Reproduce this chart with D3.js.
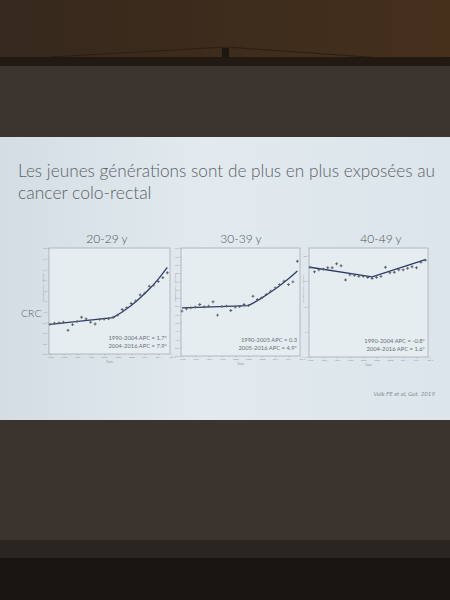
<!DOCTYPE html>
<html>
<head>
<meta charset="utf-8">
<script src="https://cdn.jsdelivr.net/npm/d3@7"></script>
<style>
  html, body { margin: 0; padding: 0; background: #1c1614; }
  svg { display: block; }
</style>
</head>
<body>
<svg id="chart" width="450" height="600"></svg>
<script>
// ---------- DATA ----------
const years = [1990,1991,1992,1993,1994,1995,1996,1997,1998,1999,2000,2001,2002,2003,2004,2005,2006,2007,2008,2009,2010,2011,2012,2013,2014,2015,2016];
const panelTitles = ["20-29 y", "30-39 y", "40-49 y"];
const rateAge2029 = [0.84,0.87,0.88,0.90,0.67,0.83,0.92,1.04,0.99,0.90,0.85,0.98,0.99,1.00,1.04,1.10,1.26,1.31,1.43,1.50,1.67,1.72,1.92,1.95,2.05,2.16,2.30];
const rateAge3039 = [2.70,2.84,2.90,2.94,3.10,2.96,3.00,3.26,2.46,2.98,3.00,2.74,2.94,2.98,3.10,3.05,3.60,3.40,3.50,3.70,3.90,4.10,4.30,4.50,4.30,4.46,5.70];
const rateAge4049 = [17.7,16.8,17.2,17.3,17.6,17.6,18.4,18.0,15.2,16.2,16.1,15.9,15.9,15.7,15.5,15.7,15.9,17.7,16.6,16.7,17.2,17.2,17.5,17.8,17.6,18.7,19.1];
// joinpoint fitted trend (year, value)
const fitYears2029 = [1990,2004,2005,2006,2007,2008,2009,2010,2011,2012,2013,2014,2015,2016];
const fitAge2029 = [0.84,1.03,1.11,1.19,1.28,1.37,1.48,1.59,1.71,1.84,1.97,2.12,2.28,2.45];
const fitYears3039 = [1990,2005,2006,2007,2008,2009,2010,2011,2012,2013,2014,2015,2016];
const fitAge3039 = [2.90,3.03,3.18,3.33,3.50,3.67,3.85,4.03,4.23,4.44,4.65,4.88,5.12];
const fitYears4049 = [1990,2004,2016];
const fitAge4049 = [17.7,15.8,19.2];
const apcLabels2029 = ["1990-2004 APC = 1.7*", "2004-2016 APC = 7.9*"];
const apcLabels3039 = ["1990-2005 APC = 0.3", "2005-2016 APC = 4.9*"];
const apcLabels4049 = ["1990-2004 APC = -0.8*", "2004-2016 APC = 1.6*"];
const yTicks2029 = [0,0.3,0.6,0.9,1.2,1.5,1.8,2.1,2.4,2.7,3.0];
const yTicks3039 = [0,0.5,1,1.5,2,2.5,3,3.5,4,4.5,5,5.5,6,6.5];
const yTicks4049 = [0,5,10,15,20];
const xTicks = [1990,1993,1996,1999,2002,2005,2008,2011,2014,2017];
const yMax = [3.0, 6.5, 21.5];
const titleText = ["Les jeunes générations sont de plus en plus exposées au", "cancer colo-rectal"];
const sideLabel = "CRC";
const citation = "Vuik FE et al, Gut. 2019";

// ---------- LAYOUT ----------
const svg = d3.select("#chart");
const defs = svg.append("defs");

// room / screen background
const bgTop = defs.append("linearGradient").attr("id","bgTop").attr("x1",0).attr("x2",1).attr("y1",0).attr("y2",0);
bgTop.append("stop").attr("offset","0%").attr("stop-color","#36281d");
bgTop.append("stop").attr("offset","100%").attr("stop-color","#45301c");
svg.append("rect").attr("x",0).attr("y",0).attr("width",450).attr("height",58).attr("fill","url(#bgTop)");
svg.append("rect").attr("x",0).attr("y",57).attr("width",450).attr("height",9).attr("fill","#231913");
svg.append("rect").attr("x",0).attr("y",66).attr("width",450).attr("height",72).attr("fill","#3c352f");
svg.append("line").attr("x1",50).attr("y1",57).attr("x2",226).attr("y2",47).attr("stroke","#241a12").attr("stroke-width",0.8);
svg.append("line").attr("x1",226).attr("y1",47).attr("x2",396).attr("y2",59).attr("stroke","#241a12").attr("stroke-width",0.8);
svg.append("rect").attr("x",222).attr("y",48).attr("width",7).attr("height",10).attr("fill","#1e1610");

svg.append("rect").attr("x",0).attr("y",420).attr("width",450).attr("height",122).attr("fill","#3b342e");
svg.append("rect").attr("x",0).attr("y",540).attr("width",450).attr("height",18).attr("fill","#2a2521");
svg.append("rect").attr("x",0).attr("y",558).attr("width",450).attr("height",42).attr("fill","#1a1412");

// slide
const slideG = defs.append("linearGradient").attr("id","slideG").attr("x1",0).attr("x2",1).attr("y1",0).attr("y2",0);
slideG.append("stop").attr("offset","0%").attr("stop-color","#d3dde3");
slideG.append("stop").attr("offset","45%").attr("stop-color","#e2eaef");
slideG.append("stop").attr("offset","100%").attr("stop-color","#dce5eb");
svg.append("rect").attr("x",0).attr("y",137).attr("width",450).attr("height",283).attr("fill","url(#slideG)");

// title
const titleColor = "#5d6266";
titleText.forEach((t, i) => {
  const el = svg.append("text")
    .attr("x", 18).attr("y", 177 + i * 22)
    .attr("font-family", "Lato, 'Open Sans', sans-serif")
    .attr("font-size", 17.5)
    .attr("font-weight", 300)
    .attr("fill", titleColor)
    .text(t);
  if (i === 0) el.attr("textLength", 417).attr("lengthAdjust", "spacingAndGlyphs");
});

svg.append("text").attr("x", 21).attr("y", 317)
  .attr("font-family", "Lato, 'Open Sans', sans-serif").attr("font-size", 10.5)
  .attr("font-weight", 300)
  .attr("fill", "#62676b").text(sideLabel);

svg.append("text").attr("x", 435).attr("y", 396).attr("text-anchor","end")
  .attr("font-family", "Lato, 'Open Sans', sans-serif").attr("font-size", 6.2)
  .attr("font-style","italic").attr("fill", "#8a9096").text(citation);

// panels
const panels = [
  { left: 49, right: 170, top: 248, bottom: 354, titleX: 107, rates: rateAge2029, fitX: fitYears2029, fitY: fitAge2029, apc: apcLabels2029, yt: yTicks2029, fmt: d3.format(".1f"), ymax: yMax[0] },
  { left: 181, right: 300, top: 248, bottom: 356, titleX: 241, rates: rateAge3039, fitX: fitYears3039, fitY: fitAge3039, apc: apcLabels3039, yt: yTicks3039, fmt: d3.format(".1f"), ymax: yMax[1] },
  { left: 309, right: 428, top: 248, bottom: 357, titleX: 381, rates: rateAge4049, fitX: fitYears4049, fitY: fitAge4049, apc: apcLabels4049, yt: yTicks4049, fmt: d3.format("d"), ymax: yMax[2] }
];

panels.forEach((p, i) => {
  const g = svg.append("g");
  const x = d3.scaleLinear().domain([1990, 2016.6]).range([p.left + 1, p.right]);
  const y = d3.scaleLinear().domain([0, p.ymax]).range([p.bottom, p.top]);

  g.append("text").attr("x", p.titleX).attr("y", 243).attr("text-anchor","middle")
    .attr("font-family", "Lato, 'Open Sans', sans-serif").attr("font-size", 12)
    .attr("font-weight", 300)
    .attr("fill", "#4c5156").text(panelTitles[i]);

  g.append("rect").attr("x", p.left).attr("y", p.top)
    .attr("width", p.right - p.left).attr("height", p.bottom - p.top)
    .attr("fill", "#e6edf1").attr("stroke", "#9ea4a9").attr("stroke-width", 0.7);

  // y axis
  const yAxis = d3.axisLeft(y).tickValues(p.yt).tickFormat(p.fmt).tickSize(1.5).tickPadding(1);
  const ya = g.append("g").attr("transform", `translate(${p.left},0)`).call(yAxis);
  ya.select(".domain").remove();
  ya.selectAll("line").attr("stroke", "#a0a6aa").attr("stroke-width", 0.5);
  ya.selectAll("text").attr("font-size", 2.6).attr("fill", "#8c9297").attr("font-family","Lato, sans-serif");

  // x axis
  const xAxis = d3.axisBottom(x).tickValues(xTicks.filter(v => v <= 2017)).tickFormat(d3.format("d")).tickSize(1.5).tickPadding(1);
  const xa = g.append("g").attr("transform", `translate(0,${p.bottom})`).call(xAxis);
  xa.select(".domain").remove();
  xa.selectAll("line").attr("stroke", "#a0a6aa").attr("stroke-width", 0.5);
  xa.selectAll("text").attr("font-size", 2.6).attr("fill", "#8c9297").attr("font-family","Lato, sans-serif");

  g.append("text").attr("x", (p.left + p.right) / 2).attr("y", p.bottom + 9)
    .attr("text-anchor","middle").attr("font-size", 2.8).attr("fill", "#8c9297")
    .attr("font-family","Lato, sans-serif").text("Years");
  g.append("text")
    .attr("transform", `translate(${p.left - 5},${(p.top + p.bottom) / 2 - 14}) rotate(-90)`)
    .attr("text-anchor","middle").attr("font-size", 2.6).attr("fill", "#8c9297")
    .attr("font-family","Lato, sans-serif").text("Incidence rate / 100 000");

  // fitted trend
  const fitPts = p.fitX.map((yr, k) => [yr, p.fitY[k]]);
  g.append("path").datum(fitPts)
    .attr("d", d3.line().x(d => x(d[0])).y(d => y(d[1])))
    .attr("fill","none").attr("stroke","#2f3a6c").attr("stroke-width", 1.3)
    .attr("stroke-linejoin","round");

  // observed points
  g.selectAll("path.pt").data(years.map((yr, k) => [yr, p.rates[k]])).join("path")
    .attr("class","pt")
    .attr("d", d3.symbol(d3.symbolCross, 4.5))
    .attr("transform", d => `translate(${x(d[0])},${y(d[1])})`)
    .attr("fill", "#5a5f65");

  // APC labels
  p.apc.forEach((t, k) => {
    g.append("text").attr("x", p.right - 3).attr("y", p.bottom - 14 + k * 7.5)
      .attr("text-anchor","end").attr("font-family","Lato, 'Open Sans', sans-serif")
      .attr("font-size", 5.8).attr("fill", "#6a6f74").text(t);
  });
});
</script>
</body>
</html>
